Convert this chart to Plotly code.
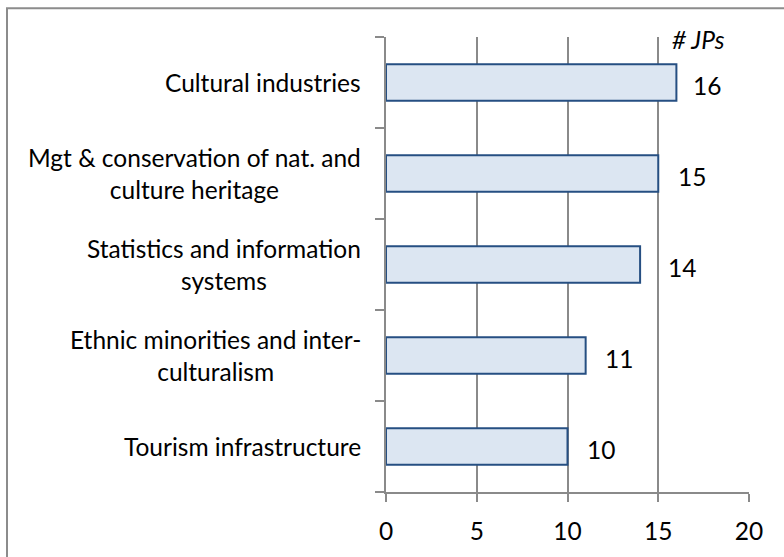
import plotly.graph_objects as go

categories = [
    "Cultural industries",
    "Mgt & conservation of nat. and<br>culture heritage",
    "Statistics and information<br>systems",
    "Ethnic minorities and inter-<br>culturalism",
    "Tourism infrastructure",
]
values = [16, 15, 14, 11, 10]
x_ticks = [0, 5, 10, 15, 20]
unit_label = "# JPs"

FONT = "Lato"
FS = 24.5
GRID = "#8a8a8a"
# pixel gap between bar end and its value label (style, per label)
LABEL_GAP = [15, 18, 26, 17, 17]

fig = go.Figure()
fig.add_trace(go.Bar(
    y=list(range(len(categories))),
    x=values,
    orientation="h",
    marker=dict(color="#DCE6F2", line=dict(color="#264F82", width=2)),
    width=0.4,
    hoverinfo="skip",
))

annotations = []
for i, (c, v) in enumerate(zip(categories, values)):
    annotations.append(dict(
        x=0, xref="paper", y=i, yref="y", text=c, showarrow=False,
        xanchor="right", yanchor="middle", align="center", xshift=-23,
        font=dict(family=FONT, size=FS, color="#000000"),
    ))
    annotations.append(dict(
        x=v, xref="x", y=i, yref="y", text=str(v), showarrow=False,
        xanchor="left", yanchor="middle", xshift=LABEL_GAP[i], yshift=-3,
        font=dict(family=FONT, size=FS, color="#000000"),
    ))
annotations.append(dict(
    x=0.86, xref="paper", y=1 - (40 - 37) / 457, yref="paper",
    text="<i>" + unit_label + "</i>",
    showarrow=False, xanchor="center", yanchor="middle",
    font=dict(family=FONT, size=FS, color="#000000"),
))

fig.update_layout(
    width=784, height=557,
    margin=dict(l=386, r=35, t=37, b=63),
    paper_bgcolor="white", plot_bgcolor="white",
    showlegend=False,
    annotations=annotations,
    xaxis=dict(
        range=[0, 20], tickvals=x_ticks, ticktext=[str(t) for t in x_ticks],
        showgrid=True, gridcolor=GRID, gridwidth=1.5,
        showline=True, linecolor=GRID, linewidth=1.5,
        ticks="outside", ticklen=8, tickcolor=GRID, tickwidth=1.5,
        tickfont=dict(family=FONT, size=FS, color="#000000"),
        ticklabelstandoff=9,
        zeroline=False, fixedrange=True,
    ),
    yaxis=dict(
        range=[len(categories) - 0.5, -0.5],
        tickvals=[i - 0.5 for i in range(len(categories) + 1)],
        showticklabels=False,
        showgrid=False, zeroline=False,
        showline=True, linecolor=GRID, linewidth=1.5,
        ticks="outside", ticklen=9, tickcolor=GRID, tickwidth=1.5,
        fixedrange=True,
    ),
    shapes=[dict(
        type="rect", xref="paper", yref="paper",
        x0=(7 - 386) / 363, x1=2.0, y0=-1.0, y1=1 + (37 - 8) / 457,
        line=dict(color="#8c8c8c", width=2), fillcolor="rgba(0,0,0,0)",
        layer="below",
    )],
)

fig.write_html("out.html")
